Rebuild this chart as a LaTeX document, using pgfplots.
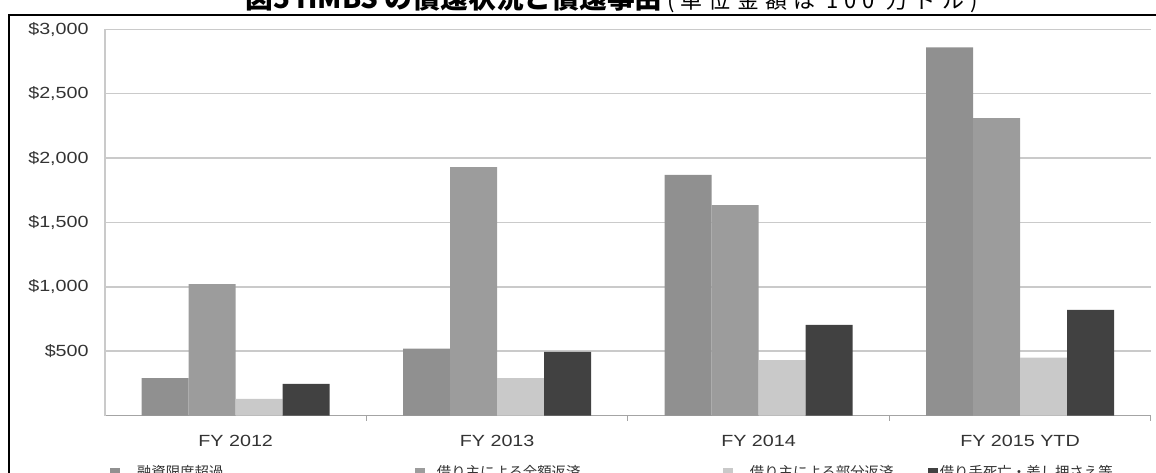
\documentclass[border=0pt]{standalone}
\usepackage{fontspec}
\usepackage{pgfplots}
\usepackage{pgfplotstable}
\pgfplotsset{compat=1.18}
\setmainfont{Liberation Sans}[FakeStretch=1.22]
\newfontfamily\cjk{Noto Sans CJK JP}
\newfontfamily\cjkspaced{Noto Sans CJK JP}[LetterSpace=28]

\definecolor{barA}{HTML}{909090}
\definecolor{barB}{HTML}{9C9C9C}
\definecolor{barC}{HTML}{C9C9C9}
\definecolor{barD}{HTML}{414141}
\definecolor{gridgray}{HTML}{CACACA}
\definecolor{axisgray}{HTML}{A4A4A4}
\definecolor{labeltext}{HTML}{333333}

% buyout amounts by reason, USD millions
\pgfplotstableread{
x   a     b     c    d
0   290   1020  130  245
1   520   1930  290  495
2   1870  1635  430  705
3   2860  2310  450  820
}\buyouts

\pgfplotsset{sqlegend/.style={legend image code/.code={\fill[##1] (0cm,-0.1cm) rectangle (0.2cm,0.1cm);}}}

\begin{document}
\begin{tikzpicture}[x=0.02cm,y=0.02cm]
\useasboundingbox (0,0) rectangle (1156,473);
% outer frame
\draw[black,line width=1.1pt] (9,-30) -- (9,458) -- (1190,458);
% title
\node[anchor=base west,inner sep=0pt,font=\cjk\bfseries\fontsize{15.8pt}{15.8pt}\selectfont]
  at (245,464.5) {図5\ HMBS\ の償還状況と償還事由\,{\cjkspaced\mdseries\fontsize{12.5pt}{12.5pt}\selectfont (単位金額は\ 100\ 万ドル)}};
\begin{axis}[
  at={(2.1cm,1.15cm)}, anchor=south west,
  scale only axis, width=20.92cm, height=7.724cm,
  ybar=0pt, bar width=0.94cm,
  xmin=-0.5, xmax=3.5, ymin=0, ymax=3000,
  xtick={0,1,2,3},
  xticklabels={FY 2012,FY 2013,FY 2014,FY 2015 YTD},
  major x tick style={draw=none},
  extra x ticks={0.5,1.5,2.5,3.5},
  extra x tick labels={},
  extra x tick style={grid=none, tick align=outside, major tick length=0.1cm,
    major x tick style={draw=axisgray, line width=0.6pt}},
  ytick={500,1000,1500,2000,2500,3000},
  yticklabels={\$500,{\$1,000},{\$1,500},{\$2,000},{\$2,500},{\$3,000}},
  major y tick style={draw=none},
  ymajorgrids, major y grid style={color=gridgray, line width=0.8pt},
  axis x line*=bottom, axis y line*=left,
  axis line style={-},
  x axis line style={color=axisgray, line width=1.1pt},
  y axis line style={color=gridgray, line width=0.8pt},
  tick label style={font=\fontsize{9.2pt}{9.2pt}\selectfont, text=labeltext},
  xticklabel style={anchor=north, inner sep=0pt, yshift=-0.23cm},
  yticklabel style={anchor=east, inner sep=0pt, xshift=-0.32cm},
  legend columns=4,
  legend cell align=left,
  legend style={at={(axis description cs:0.00478,-0.149)}, anchor=west,
    draw=none, fill=none, inner sep=0pt, outer sep=0pt,
    nodes={inner sep=0pt, outer sep=0pt},
    font=\cjk\fontsize{8.2pt}{8.2pt}\selectfont, text=labeltext,
    /tikz/every odd column/.append style={column sep=0.34cm},
    /tikz/every even column/.append style={column sep=0pt}},
]
\addplot[fill=barA, draw=none, sqlegend] table[x=x, y=a] {\buyouts};
\addlegendentry{\makebox[5.56cm][l]{融資限度超過}}
\addplot[fill=barB, draw=none, sqlegend] table[x=x, y=b] {\buyouts};
\addlegendentry{\makebox[5.62cm][l]{\hspace*{-0.1cm}借り主による全額返済}}
\addplot[fill=barC, draw=none, sqlegend] table[x=x, y=c] {\buyouts};
\addlegendentry{\makebox[3.56cm][l]{借り主による部分返済}}
\addplot[fill=barD, draw=none, sqlegend] table[x=x, y=d] {\buyouts};
\addlegendentry{\hspace*{-0.3cm}借り手死亡・差し押さえ等}
\end{axis}
\end{tikzpicture}
\end{document}
